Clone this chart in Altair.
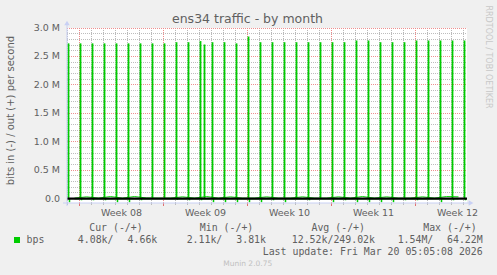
import altair as alt
import pandas as pd

# ---------------- data ----------------
spike_times = [
    "2026-02-15T02:00", "2026-02-16T02:00", "2026-02-17T02:00", "2026-02-18T02:00",
    "2026-02-19T02:00", "2026-02-20T02:00", "2026-02-21T02:00", "2026-02-22T02:00",
    "2026-02-23T02:00", "2026-02-24T02:00", "2026-02-25T02:00", "2026-02-26T02:00",
    "2026-02-26T10:00", "2026-02-27T02:00", "2026-02-28T02:00", "2026-03-01T02:00",
    "2026-03-02T02:00", "2026-03-03T02:00", "2026-03-04T02:00", "2026-03-05T02:00",
    "2026-03-06T02:00", "2026-03-07T02:00", "2026-03-08T02:00", "2026-03-09T02:00",
    "2026-03-10T02:00", "2026-03-11T02:00", "2026-03-12T02:00", "2026-03-13T02:00",
    "2026-03-14T02:00", "2026-03-15T02:00", "2026-03-16T02:00", "2026-03-17T02:00",
    "2026-03-18T02:00", "2026-03-19T02:00", "2026-03-20T02:00",
]
spike_mbps = [
    2.73, 2.73, 2.73, 2.73, 2.73, 2.73, 2.73, 2.73, 2.73, 2.75, 2.75, 2.77,
    2.71, 2.75, 2.75, 2.73, 2.85, 2.75, 2.75, 2.75, 2.75, 2.75, 2.75, 2.75,
    2.75, 2.78, 2.78, 2.75, 2.75, 2.75, 2.78, 2.78, 2.78, 2.78, 2.78,
]

dip_times = [
    "2026-02-15T04:00", "2026-02-16T04:00", "2026-02-17T04:00", "2026-02-18T04:00",
    "2026-02-19T04:00", "2026-02-20T04:00", "2026-02-21T04:00", "2026-02-24T04:00",
    "2026-02-25T04:00", "2026-02-26T04:00", "2026-02-27T04:00", "2026-02-28T04:00",
    "2026-03-01T04:00", "2026-03-02T04:00", "2026-03-03T04:00", "2026-03-04T04:00",
    "2026-03-05T04:00", "2026-03-07T04:00", "2026-03-09T04:00", "2026-03-10T04:00",
    "2026-03-11T04:00", "2026-03-12T04:00", "2026-03-13T04:00", "2026-03-14T04:00",
    "2026-03-15T04:00", "2026-03-16T04:00", "2026-03-18T04:00", "2026-03-19T04:00",
    "2026-03-20T04:00",
]
dip_mbps = [
    -0.065, -0.03, -0.03, -0.03, -0.065, -0.065, -0.03, -0.02,
    -0.03, -0.03, -0.065, -0.065, -0.065, -0.065, -0.065, -0.03,
    -0.065, -0.03, -0.065, -0.03, -0.065, -0.065, -0.065, -0.065,
    -0.03, -0.03, -0.065, -0.03, -0.03,
]

base_times = [
    "2026-02-15T14:00", "2026-02-16T14:00", "2026-02-17T14:00", "2026-02-18T14:00",
    "2026-02-19T14:00", "2026-02-20T14:00", "2026-02-21T14:00", "2026-02-22T14:00",
    "2026-02-23T14:00", "2026-02-24T14:00", "2026-02-25T14:00", "2026-02-26T14:00",
    "2026-02-27T14:00", "2026-02-28T14:00", "2026-03-01T14:00", "2026-03-02T14:00",
    "2026-03-03T14:00", "2026-03-04T14:00", "2026-03-05T14:00", "2026-03-06T14:00",
    "2026-03-07T14:00", "2026-03-08T14:00", "2026-03-09T14:00", "2026-03-10T14:00",
    "2026-03-11T14:00", "2026-03-12T14:00", "2026-03-13T14:00", "2026-03-14T14:00",
    "2026-03-15T14:00", "2026-03-16T14:00", "2026-03-17T14:00", "2026-03-18T14:00",
    "2026-03-19T14:00",
]
out_base_mbps = [
    0.008, 0.03, 0.008, 0.035, 0.008, 0.035, 0.01, 0.008, 0.008, 0.03, 0.008, 0.035,
    0.008, 0.03, 0.008, 0.008, 0.03, 0.008, 0.008, 0.03, 0.008, 0.008, 0.03, 0.008,
    0.035, 0.008, 0.03, 0.008, 0.008, 0.03, 0.008, 0.035, 0.03,
]
in_base_mbps = [
    -0.005, -0.004, -0.006, -0.005, -0.004, -0.005, -0.006, -0.004, -0.005, -0.005, -0.004,
    -0.006, -0.005, -0.004, -0.005, -0.006, -0.005, -0.004, -0.005, -0.005, -0.006, -0.004,
    -0.005, -0.005, -0.004, -0.006, -0.005, -0.004, -0.005, -0.006, -0.005, -0.004, -0.005,
]

day_grid = [f"2026-02-{d:02d}T00:00" for d in range(15, 29)] + \
           [f"2026-03-{d:02d}T00:00" for d in range(1, 21)]
week_grid = ["2026-02-16T00:00", "2026-02-23T00:00", "2026-03-02T00:00",
             "2026-03-09T00:00", "2026-03-16T00:00"]
week_label_times = ["2026-02-19T12:00", "2026-02-26T12:00", "2026-03-05T12:00",
                    "2026-03-12T12:00", "2026-03-19T12:00"]
week_labels = ["Week 08", "Week 09", "Week 10", "Week 11", "Week 12"]

y_major = [0.5, 1.0, 1.5, 2.0, 2.5, 3.0]
y_minor = [0.1, 0.2, 0.3, 0.4, 0.6, 0.7, 0.8, 0.9, 1.1, 1.2, 1.3, 1.4, 1.6, 1.7, 1.8, 1.9,
           2.1, 2.2, 2.3, 2.4, 2.6, 2.7, 2.8, 2.9]
y_ticks = [0.0, 0.5, 1.0, 1.5, 2.0, 2.5, 3.0]
y_tick_labels = ["0.0", "0.5 M", "1.0 M", "1.5 M", "2.0 M", "2.5 M", "3.0 M"]

# ---------------- tables ----------------
def ts(lst):
    return [s + ":00Z" for s in lst]

spikes = pd.DataFrame({"t": ts(spike_times), "v": [m * 1e6 for m in spike_mbps]})
dips = pd.DataFrame({"t": ts(dip_times), "v": [m * 1e6 for m in dip_mbps]})
out_base = pd.DataFrame({"t": ts(base_times), "v": [m * 1e6 for m in out_base_mbps]})
in_base = pd.DataFrame({"t": ts(base_times), "v": [m * 1e6 for m in in_base_mbps]})
vminor = pd.DataFrame({"t": ts(day_grid)})
vmajor = pd.DataFrame({"t": ts(week_grid)})
hminor = pd.DataFrame({"v": [m * 1e6 for m in y_minor]})
hmajor = pd.DataFrame({"v": [m * 1e6 for m in y_major]})
ylab = pd.DataFrame({"v": [m * 1e6 for m in y_ticks], "label": y_tick_labels})
wlab = pd.DataFrame({"t": ts(week_label_times), "label": week_labels})
one = pd.DataFrame({"k": [0]})

W, H = 400, 175
PL, PT = 67, 28
GREEN = "#00CC00"
TXT = "#606060"
AXC = "#C8D0F4"
SANS = "DejaVu Sans"
MONO = "DejaVu Sans Mono"

xscale = alt.Scale(type="utc",
                   domain=[alt.DateTime(year=2026, month="Feb", date=14, hours=23, utc=True),
                           alt.DateTime(year=2026, month="Mar", date=20, hours=7, utc=True)])
yscale = alt.Scale(domain=[-78000, 3000000], nice=False, zero=False)
hidden = alt.Axis(labels=False, ticks=False, domain=False, grid=False, title=None)

X = alt.X("t:T", scale=xscale, axis=hidden)
Y = alt.Y("v:Q", scale=yscale, axis=hidden)

# snap horizontal grid rules to pixel centres (as rrdtool does)
SNAP = {"expr": "round(scale('y', datum.v) - 0.5) + 0.5 - scale('y', datum.v)"}

def ax(a):
    return alt.value(a - PL)

def ay(a):
    return alt.value(a - PT)

layers = []
# grid
layers.append(alt.Chart(hminor).mark_rule(color="#BDBDBD", strokeWidth=1, strokeDash=[1, 1],
                                          yOffset=SNAP)
              .encode(y=Y, x=alt.value(0), x2=alt.value(W)))
layers.append(alt.Chart(vminor).mark_rule(color="#B8B8B8", strokeWidth=1, strokeDash=[1, 1])
              .encode(x=X, y=alt.value(0), y2=alt.value(H)))
layers.append(alt.Chart(hmajor).mark_rule(color="#EE9090", strokeWidth=1, strokeDash=[1, 1],
                                          yOffset=SNAP)
              .encode(y=Y, x=alt.value(0), x2=alt.value(W)))
layers.append(alt.Chart(vmajor).mark_rule(color="#EE8888", strokeWidth=1, strokeDash=[1, 1])
              .encode(x=X, y=alt.value(0), y2=alt.value(H)))
# ticks below axis
layers.append(alt.Chart(vminor).mark_rule(color="#BBBBBB", strokeWidth=1)
              .encode(x=X, y=alt.value(H), y2=alt.value(H + 2)))
layers.append(alt.Chart(vmajor).mark_rule(color="#E07070", strokeWidth=1)
              .encode(x=X, y=alt.value(H), y2=alt.value(H + 3)))
# data
layers.append(alt.Chart(out_base).mark_line(color=GREEN, strokeWidth=1, clip=True)
              .encode(x=X, y=Y))
layers.append(alt.Chart(in_base).mark_line(color=GREEN, strokeWidth=1, clip=True)
              .encode(x=X, y=Y))
layers.append(alt.Chart(spikes).mark_rule(color=GREEN, strokeWidth=1.8, clip=True)
              .encode(x=X, y=Y, y2=alt.datum(0)))
layers.append(alt.Chart(dips).mark_rule(color=GREEN, strokeWidth=1.5, clip=True)
              .encode(x=X, y=Y, y2=alt.datum(0)))
# zero line
layers.append(alt.Chart(one).mark_rule(color="#000000", strokeWidth=2.2)
              .encode(y=alt.datum(0), x=alt.value(0), x2=alt.value(W)))
# axis lines and arrows
layers.append(alt.Chart(one).mark_rule(color=AXC, strokeWidth=1)
              .encode(x=ax(63), x2=ax(470), y=ay(203)))
layers.append(alt.Chart(one).mark_rule(color=AXC, strokeWidth=1)
              .encode(x=ax(67), y=ay(206), y2=ay(25)))
layers.append(alt.Chart(one).mark_point(shape="triangle-right", filled=True, color=AXC,
                                         size=30, opacity=1)
              .encode(x=ax(471), y=ay(203)))
layers.append(alt.Chart(one).mark_point(shape="triangle-up", filled=True, color=AXC,
                                         size=30, opacity=1)
              .encode(x=ax(67), y=ay(23)))
# axis labels
layers.append(alt.Chart(wlab).mark_text(font=SANS, fontSize=9.5, color=TXT, baseline="middle")
              .encode(x=X, y=ay(213), text="label:N"))
layers.append(alt.Chart(ylab).mark_text(font=SANS, fontSize=9.5, color=TXT, baseline="middle",
                                        align="right")
              .encode(x=ax(60), y=Y, text="label:N"))

# static texts
def txt(s, x, y, size, color=TXT, font=SANS, align="center", angle=0, baseline="middle"):
    return alt.Chart(one).mark_text(text=s, font=font, fontSize=size, color=color,
                                    align=align, baseline=baseline, angle=angle) \
        .encode(x=ax(x), y=ay(y))

layers.append(txt("ens34 traffic - by month", 247.5, 18.5, 12.5))
layers.append(txt("bits in (-) / out (+) per second", 11, 110.5, 10, angle=270))
layers.append(txt("RRDTOOL / TOBI OETIKER", 488, 57, 8, color="#C8C8C8", angle=90))

MS = 9.9
for s, xe in [("Cur (-/+)", 142.7), ("Min (-/+)", 253.3), ("Avg (-/+)", 365.0), ("Max (-/+)", 476.7)]:
    layers.append(txt(s, xe, 227.5, MS, font=MONO, align="right"))
layers.append(txt("bps", 26.5, 240, MS, font=MONO, align="left"))
for s, xe in [("4.08k/", 113.5), ("4.66k", 157.3), ("2.11k/", 222.3), ("3.81k", 266.0),
              ("12.52k/249.02k", 375.0), ("1.54M/", 433.3), ("64.22M", 482.7)]:
    layers.append(txt(s, xe, 240, MS, font=MONO, align="right"))
layers.append(txt("Last update: Fri Mar 20 05:05:08 2026", 482.7, 251.8, MS, font=MONO, align="right"))
layers.append(txt("Munin 2.0.75", 247.7, 263.5, 7.5, color="#C0C0C0"))
layers.append(alt.Chart(one).mark_point(shape="square", filled=True, color=GREEN, size=36, opacity=1)
              .encode(x=ax(17), y=ay(240)))

chart = alt.layer(*layers).properties(
    width=W, height=H,
    autosize=alt.AutoSizeParams(type="none"),
    padding={"left": PL, "top": PT, "right": 497 - PL - W, "bottom": 275 - PT - H},
    background="#F0F0F0",
).configure_view(stroke=None, fill="white")

chart.save("out.html", embed_options={"renderer": "svg", "actions": False})
